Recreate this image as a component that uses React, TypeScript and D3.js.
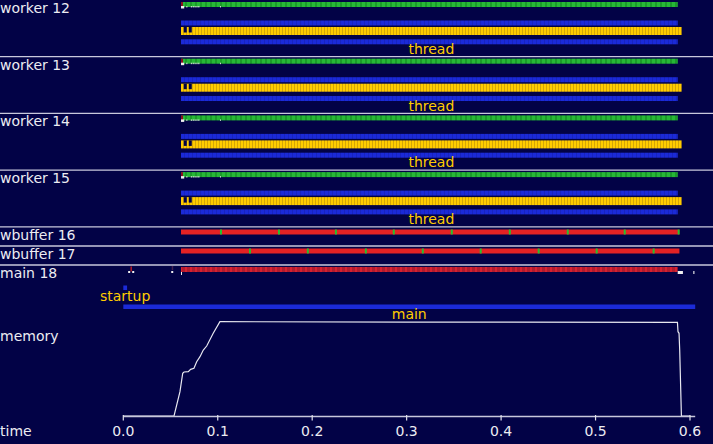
import React from "react";
import * as d3 from "d3";

// ---- data ----
const workerNames = ["worker 12", "worker 13", "worker 14", "worker 15"];
const bufferNames = ["wbuffer 16", "wbuffer 17"];
const mainName = "main 18";

const workerStart = 0.0611;
const workerGreenEnd = 0.587;
const workerYellowEnd = 0.5912;
const workerBlueEnd = 0.587;
const workerInitRed = [0.0611, 0.0632];
// small white marks under green bar (start, end)
const workerWhiteMarks: [number, number][] = [
  [0.0611, 0.0645], [0.0668, 0.0678], [0.0715, 0.0725], [0.0735, 0.0745],
  [0.0755, 0.0765], [0.0775, 0.0785], [0.0795, 0.0805], [0.1025, 0.1032],
];
// gaps in the yellow bar forming the "UU" shape at the start
const yellowGaps: [number, number][] = [[0.0640, 0.0672], [0.0693, 0.0725]];

const bufferStart = 0.0611;
const bufferEnd = 0.5888;
const buffer16Flush = [0.1034, 0.1648, 0.2251, 0.2864, 0.3478, 0.4092, 0.4706, 0.5309, 0.588];
const buffer17Flush = [0.1341, 0.1954, 0.2568, 0.3171, 0.3784, 0.4398, 0.5012, 0.5615];

const mainBarStart = 0.0611;
const mainBarEnd = 0.587;
const mainRedTick = 0.0082;
const mainWhiteDots = [0.0062, 0.0105, 0.0518];
const mainEndMarks: [number, number][] = [[0.587, 0.5925], [0.6035, 0.6047]];
const mainStartMark: [number, number] = [0.0611, 0.0632];

const startupSpan: [number, number] = [0, 0.004];
const mainSpan: [number, number] = [0, 0.6055];

const memTimes = [0, 0.0537, 0.06, 0.0629, 0.0643, 0.0688, 0.0713, 0.0748, 0.0777, 0.0812, 0.0847,
  0.0883, 0.0952, 0.1023, 0.3, 0.5867, 0.5873, 0.5884, 0.5891, 0.5909, 0.6];
const memValues = [0, 0, 25.8, 45.3, 46.7, 47, 49.5, 50.6, 57.6, 62.9, 70,
  74.2, 87.7, 100, 99.6, 99.3, 89.4, 87.7, 70, 0, 0];

const timeTicks = [0, 0.1, 0.2, 0.3, 0.4, 0.5, 0.6];

const BG = "#020246";
const TEXT = "#ececf2";
const YEL = "#ffcc00";
const FONT = "DejaVu Sans, sans-serif";
const FS = 14;

export default function App() {
  const x = d3.scaleLinear().domain([0, 0.6]).range([123.3, 690]);
  const yMem = d3.scaleLinear().domain([0, 100]).range([416, 321.7]);
  const memLine = d3.line<number>()
    .x((_, i) => x(memTimes[i]))
    .y((d) => yMem(d))(memValues) || "";

  const workerH = 56.7;
  const bufTop = 227;
  const bufH = 19;
  const mainTop = 265;

  const span = (a: number, b: number) => ({ x: x(a), w: Math.max(0.8, x(b) - x(a)) });

  return (
    <svg width={713} height={444} style={{ position: "absolute", left: 0, top: 0, display: "block" }}
      fontFamily={FONT}>
      <defs>
        <pattern id="pGreen" patternUnits="userSpaceOnUse" width={5} height={10}>
          <rect width={5} height={10} fill="#26b836" />
          <rect x={0} width={2} height={10} fill="#1c9a2a" />
        </pattern>
        <pattern id="pYellow" patternUnits="userSpaceOnUse" width={3} height={10}>
          <rect width={3} height={10} fill="#ffcc00" />
          <rect x={0} width={1} height={10} fill="#d4a606" />
        </pattern>
        <pattern id="pBlue" patternUnits="userSpaceOnUse" width={4} height={10}>
          <rect width={4} height={10} fill="#1b2ad8" />
          <rect x={0} width={1} height={10} fill="#1824c0" />
        </pattern>
        <pattern id="pRed" patternUnits="userSpaceOnUse" width={5} height={10}>
          <rect width={5} height={10} fill="#b01c2e" />
          <rect x={0} width={2} height={10} fill="#d82030" />
        </pattern>
      </defs>
      <rect width={713} height={444} fill={BG} />

      {workerNames.map((name, i) => {
        const y0 = i * workerH;
        const g = span(workerStart, workerGreenEnd);
        const yl = span(workerStart, workerYellowEnd);
        const b = span(workerStart, workerBlueEnd);
        const r = span(workerInitRed[0], workerInitRed[1]);
        return (
          <g key={name}>
            <text x={0} y={y0 + 13} fill={TEXT} fontSize={FS}>{name}</text>
            <rect x={g.x} y={y0 + 2} width={g.w} height={5} fill="url(#pGreen)" />
            <rect x={r.x} y={y0 + 2} width={r.w} height={5} fill="#8a1020" />
            {workerWhiteMarks.map(([a, c], k) => {
              const s = span(a, c);
              return <rect key={k} x={s.x} y={y0 + 6} width={s.w} height={k === 0 ? 2.5 : 1.5} fill="#f0f0f0" />;
            })}
            <rect x={b.x} y={y0 + 20.5} width={b.w} height={5} fill="url(#pBlue)" />
            <rect x={yl.x} y={y0 + 27} width={yl.w} height={8} fill="url(#pYellow)" />
            {yellowGaps.map(([a, c], k) => {
              const s = span(a, c);
              return <rect key={k} x={s.x} y={y0 + 27} width={s.w} height={5.5} fill={BG} />;
            })}
            <rect x={b.x} y={y0 + 39.3} width={b.w} height={5} fill="url(#pBlue)" />
            <text x={(x(workerStart) + x(workerYellowEnd)) / 2} y={y0 + 54} fill={YEL} fontSize={FS}
              textAnchor="middle">thread</text>
            <line x1={0} x2={713} y1={y0 + workerH} y2={y0 + workerH} stroke="#c8c8dc" strokeWidth={1.3} />
          </g>
        );
      })}

      {bufferNames.map((name, i) => {
        const y0 = bufTop + i * bufH;
        const s = span(bufferStart, bufferEnd);
        const flush = i === 0 ? buffer16Flush : buffer17Flush;
        return (
          <g key={name}>
            <text x={0} y={y0 + 13} fill={TEXT} fontSize={FS}>{name}</text>
            <rect x={s.x} y={y0 + 2.5} width={s.w} height={5} fill="#e42224" />
            {flush.map((t, k) => (
              <rect key={k} x={x(t) - 1} y={y0 + 2.5} width={2} height={5} fill="#28c030" />
            ))}
            <line x1={0} x2={713} y1={y0 + bufH} y2={y0 + bufH} stroke="#c8c8dc" strokeWidth={1.3} />
          </g>
        );
      })}

      <g>
        <text x={0} y={mainTop + 12.5} fill={TEXT} fontSize={FS}>{mainName}</text>
        {(() => {
          const s = span(mainBarStart, mainBarEnd);
          return <rect x={s.x} y={mainTop + 2} width={s.w} height={5} fill="url(#pRed)" />;
        })()}
        <rect x={x(mainRedTick) - 0.5} y={mainTop + 1.5} width={1.2} height={5} fill="#e02020" />
        <rect x={x(0.0518) - 0.5} y={mainTop + 1} width={1.5} height={4} fill="#402050" />
        {mainWhiteDots.map((t, k) => (
          <rect key={k} x={x(t) - 1} y={mainTop + 6} width={2} height={2} fill="#f0f0f0" />
        ))}
        {(() => {
          const s = span(mainStartMark[0], mainStartMark[1]);
          return <rect x={s.x} y={mainTop + 7} width={s.w - 1} height={3} fill="#f0f0f0" />;
        })()}
        {mainEndMarks.map(([a, c], k) => {
          const s = span(a, c);
          return <rect key={k} x={s.x} y={mainTop + 6} width={s.w} height={3} fill="#f0f0f0" />;
        })}
        {(() => {
          const s = span(startupSpan[0], startupSpan[1]);
          return <rect x={s.x} y={285.5} width={s.w} height={4.5} fill="#1b2ad8" />;
        })()}
        <text x={(x(startupSpan[0]) + x(startupSpan[1])) / 2} y={300.5} fill={YEL} fontSize={FS}
          textAnchor="middle">startup</text>
        {(() => {
          const s = span(mainSpan[0], mainSpan[1]);
          return <rect x={s.x} y={304.5} width={s.w} height={4.5} fill="#1b2ad8" />;
        })()}
        <text x={(x(mainSpan[0]) + x(mainSpan[1])) / 2} y={319} fill={YEL} fontSize={FS}
          textAnchor="middle">main</text>
      </g>

      <text x={0} y={340.5} fill={TEXT} fontSize={FS}>memory</text>
      <path d={memLine} fill="none" stroke="#e8e8f0" strokeWidth={1.2} />

      <g>
        <line x1={x(0)} x2={x(0.6055)} y1={416.5} y2={416.5} stroke="#c8c8dc" strokeWidth={1.3} />
        {timeTicks.map((t) => (
          <g key={t}>
            <line x1={x(t)} x2={x(t)} y1={415} y2={420.5} stroke="#e0e0ea" strokeWidth={1.2} />
            <text x={x(t)} y={435.5} fill={TEXT} fontSize={FS} textAnchor="middle">{t.toFixed(1)}</text>
          </g>
        ))}
        <text x={0} y={435.5} fill={TEXT} fontSize={FS}>time</text>
      </g>
    </svg>
  );
}
